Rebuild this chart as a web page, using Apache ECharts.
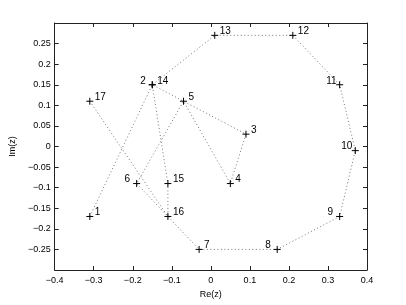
<!DOCTYPE html>
<html><head><meta charset="utf-8">
<script src="https://cdn.jsdelivr.net/npm/echarts@6/dist/echarts.min.js"></script>
<style>html,body{margin:0;padding:0;background:#fff}#c{width:406px;height:305px}</style>
</head><body><div id="c"></div>
<script>
const names = ['1','2','3','4','5','6','7','8','9','10','11','12','13','14','15','16','17'];
const re = [-0.31,-0.15,0.09,0.05,-0.07,-0.19,-0.03,0.17,0.33,0.37,0.33,0.21,0.01,-0.15,-0.11,-0.11,-0.31];
const im = [-0.17,0.15,0.03,-0.09,0.11,-0.09,-0.25,-0.25,-0.17,-0.01,0.15,0.27,0.27,0.15,-0.09,-0.17,0.11];
const labelSide = ['r','l','r','r','r','l','r','l','l','l','l','r','r','r','r','r','r'];
const xTickMin = -0.4, xTickMax = 0.4, xStep = 0.1;
const yTickMin = -0.3, yTickMax = 0.3, yStep = 0.05;

const fontFamily = 'Liberation Sans, Arial, Helvetica, sans-serif';
const yfmt = v => { const r = Math.round(v*100)/100; if (Math.abs(r) >= 0.3) return ''; return String(r).replace('-', '\u2212'); };
const xfmt = v => { const r = Math.round(v*100)/100; return String(r).replace('-', '\u2212'); };

const data = re.map((x, i) => {
  const left = labelSide[i] === 'l';
  let dist = left ? 2.5 : 1;
  if (names[i] === '10' || names[i] === '11') dist = -1;
  return {
    value: [x, im[i]],
    name: names[i],
    label: { position: left ? 'left' : 'right', distance: dist, offset: [0, -4] }
  };
});

const axisLine = { show: true, onZero: false, lineStyle: { color: '#222', width: 1 } };
const tick = { show: true, inside: true, length: 4, lineStyle: { color: '#222' } };
const labelStyle = { color: '#000', fontSize: 9, fontFamily };

const chart = echarts.init(document.getElementById('c'), null, { renderer: 'canvas' });
chart.setOption({
  animation: false,
  backgroundColor: '#fff',
  grid: { left: 53, right: 39, top: 23, bottom: 35 },
  xAxis: [
    { type: 'value', min: xTickMin, max: xTickMax, interval: xStep, position: 'bottom',
      axisLine, axisTick: tick, splitLine: { show: false },
      axisLabel: { ...labelStyle, margin: 6, formatter: xfmt },
      name: 'Re(z)', nameLocation: 'middle', nameGap: 20,
      nameTextStyle: { color: '#000', fontSize: 9, fontFamily } },
    { type: 'value', min: xTickMin, max: xTickMax, interval: xStep, position: 'top',
      axisLine, axisTick: tick, splitLine: { show: false }, axisLabel: { show: false } }
  ],
  yAxis: [
    { type: 'value', min: yTickMin, max: yTickMax, interval: yStep, position: 'left',
      axisLine, axisTick: tick, splitLine: { show: false },
      axisLabel: { ...labelStyle, margin: 4, formatter: yfmt },
      name: 'Im(z)', nameLocation: 'middle', nameGap: 36, nameRotate: 90,
      nameTextStyle: { color: '#000', fontSize: 9, fontFamily } },
    { type: 'value', min: yTickMin, max: yTickMax, interval: yStep, position: 'right',
      axisLine, axisTick: tick, splitLine: { show: false }, axisLabel: { show: false } }
  ],
  series: [{
    type: 'line',
    data,
    xAxisIndex: 0, yAxisIndex: 0,
    lineStyle: { color: '#777', width: 1, type: [1, 2.5] },
    symbol: 'path://M0,5L10,5M5,0L5,10',
    symbolSize: 7,
    showAllSymbol: true,
    itemStyle: { color: 'rgba(0,0,0,0)', borderColor: '#000', borderWidth: 1 },
    label: { show: true, formatter: p => p.name, color: '#000', fontSize: 10, fontFamily },
    emphasis: { disabled: true },
    z: 3
  }]
});
</script></body></html>
